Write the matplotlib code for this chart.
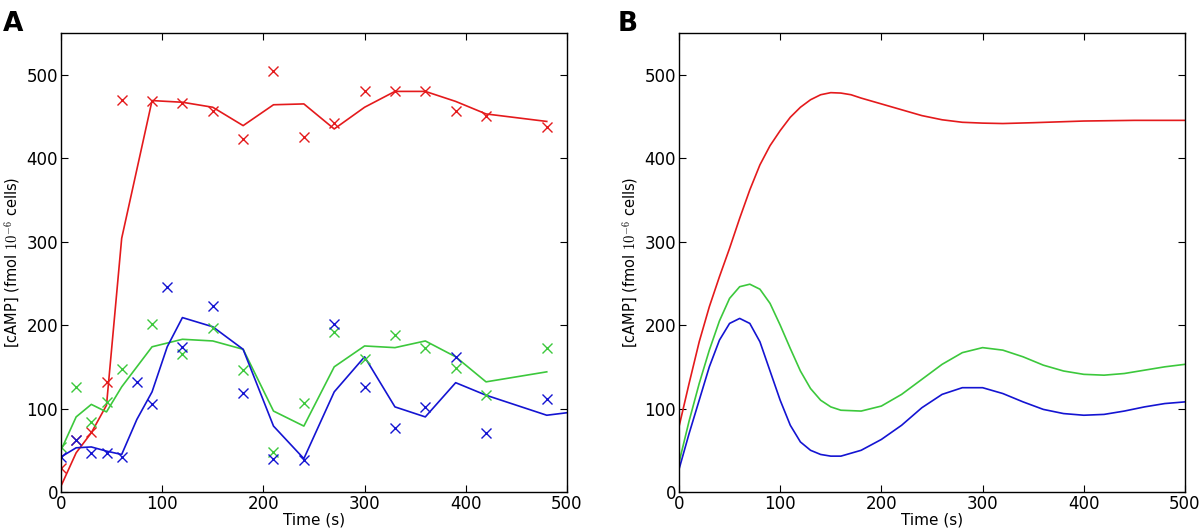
import numpy as np
import matplotlib
matplotlib.use("Agg")
import matplotlib.pyplot as plt

plt.rcParams["mathtext.fontset"] = "cm"

# ---- panel A: measured points (markers) ----
t_red_pts = [0, 15, 30, 45, 60, 90, 120, 150, 180, 210, 240, 270, 300, 330, 360, 390, 420, 480]
red_pts = [29, 62, 72, 132, 470, 468, 466, 456, 423, 504, 425, 442, 480, 481, 481, 457, 450, 437]

t_blue_pts = [0, 15, 30, 45, 60, 75, 90, 105, 120, 150, 180, 210, 240, 270, 300, 330, 360, 390, 420, 480]
blue_pts = [42, 62, 47, 47, 42, 132, 106, 246, 174, 223, 119, 39, 38, 201, 126, 77, 102, 162, 71, 112]

t_green_pts = [0, 15, 30, 45, 60, 90, 120, 150, 180, 210, 240, 270, 300, 330, 360, 390, 420, 480]
green_pts = [54, 126, 84, 108, 147, 201, 165, 197, 146, 48, 107, 192, 159, 188, 173, 148, 116, 173]

# ---- panel A: fitted lines ----
t_red_line = [0, 15, 30, 45, 60, 90, 120, 150, 180, 210, 240, 270, 300, 330, 360, 390, 420, 480]
red_line = [7, 47, 71, 104, 304, 469, 467, 461, 439, 464, 465, 435, 461, 480, 480, 468, 453, 444]

t_blue_line = [0, 15, 30, 45, 60, 75, 90, 105, 120, 150, 180, 210, 240, 270, 300, 330, 360, 390, 420, 480, 500]
blue_line = [42, 53, 54, 49, 45, 87, 120, 174, 209, 198, 171, 79, 40, 120, 162, 102, 90, 131, 116, 92, 95]

t_green_line = [0, 15, 30, 45, 60, 90, 120, 150, 180, 210, 240, 270, 300, 330, 360, 390, 420, 480]
green_line = [50, 90, 105, 96, 126, 174, 183, 181, 171, 97, 79, 150, 175, 173, 181, 162, 132, 144]

# ---- panel B: model curves ----
t_red_model = [0, 10, 20, 30, 40, 50, 60, 70, 80, 90, 100, 110, 120, 130, 140, 150, 160, 170, 180,
               200, 220, 240, 260, 280, 300, 320, 350, 400, 450, 500]
red_model = [78, 130, 180, 222, 258, 292, 328, 362, 392, 415, 433, 449, 461, 470, 476, 478.5, 478,
             476, 472, 465, 458, 451, 446, 443, 442, 441.5, 442.5, 444.5, 445.3, 445.3]

t_model = [0, 10, 20, 30, 40, 50, 60, 70, 80, 90, 100, 110, 120, 130, 140, 150, 160, 180, 200,
           220, 240, 260, 280, 300, 320, 340, 360, 380, 400, 420, 440, 460, 480, 500]
green_model = [35, 85, 130, 170, 205, 232, 246, 249, 243, 226, 200, 172, 145, 124, 110, 102, 98,
               97, 103, 117, 135, 153, 167, 173, 170, 162, 152, 145, 141, 140, 142, 146, 150, 153]
blue_model = [27, 70, 110, 150, 182, 202, 208, 202, 180, 145, 110, 80, 60, 50, 45, 43, 43, 50, 63,
              80, 101, 117, 125, 125, 118, 108, 99, 94, 92, 93, 97, 102, 106, 108]

RED = "#e41a1c"
GREEN = "#3cc83c"
BLUE = "#1414d2"

fig = plt.figure(figsize=(12, 5.31), dpi=100)
axA = fig.add_axes([0.0508, 0.0734, 0.4217, 0.8645])
axB = fig.add_axes([0.5658, 0.0734, 0.4217, 0.8645])

lw = 1.2
ms = 7
axA.plot(t_red_line, red_line, color=RED, lw=lw)
axA.plot(t_green_line, green_line, color=GREEN, lw=lw)
axA.plot(t_blue_line, blue_line, color=BLUE, lw=lw)
axA.plot(t_red_pts, red_pts, "x", color=RED, ms=ms, mew=1.0)
axA.plot(t_green_pts, green_pts, "x", color=GREEN, ms=ms, mew=1.0)
axA.plot(t_blue_pts, blue_pts, "x", color=BLUE, ms=ms, mew=1.0)

axB.plot(t_red_model, red_model, color=RED, lw=lw)
axB.plot(t_model, green_model, color=GREEN, lw=lw)
axB.plot(t_model, blue_model, color=BLUE, lw=lw)

for ax in (axA, axB):
    ax.set_xlim(0, 500)
    ax.set_ylim(0, 550)
    ax.set_xticks([0, 100, 200, 300, 400, 500])
    ax.set_yticks([0, 100, 200, 300, 400, 500])
    ax.tick_params(direction="in", top=True, right=True, length=5, labelsize=12, pad=2)
    ax.set_xlabel("Time (s)", fontsize=11, labelpad=0)
    ax.set_ylabel(r"[cAMP] (fmol $10^{-6}$ cells)", fontsize=10.5, labelpad=3)
    for s in ax.spines.values():
        s.set_linewidth(1.0)

fig.text(0.002, 0.955, "A", fontsize=19, fontweight="bold", va="center", ha="left")
fig.text(0.515, 0.955, "B", fontsize=19, fontweight="bold", va="center", ha="left")

fig.savefig("out.png", dpi=100)
